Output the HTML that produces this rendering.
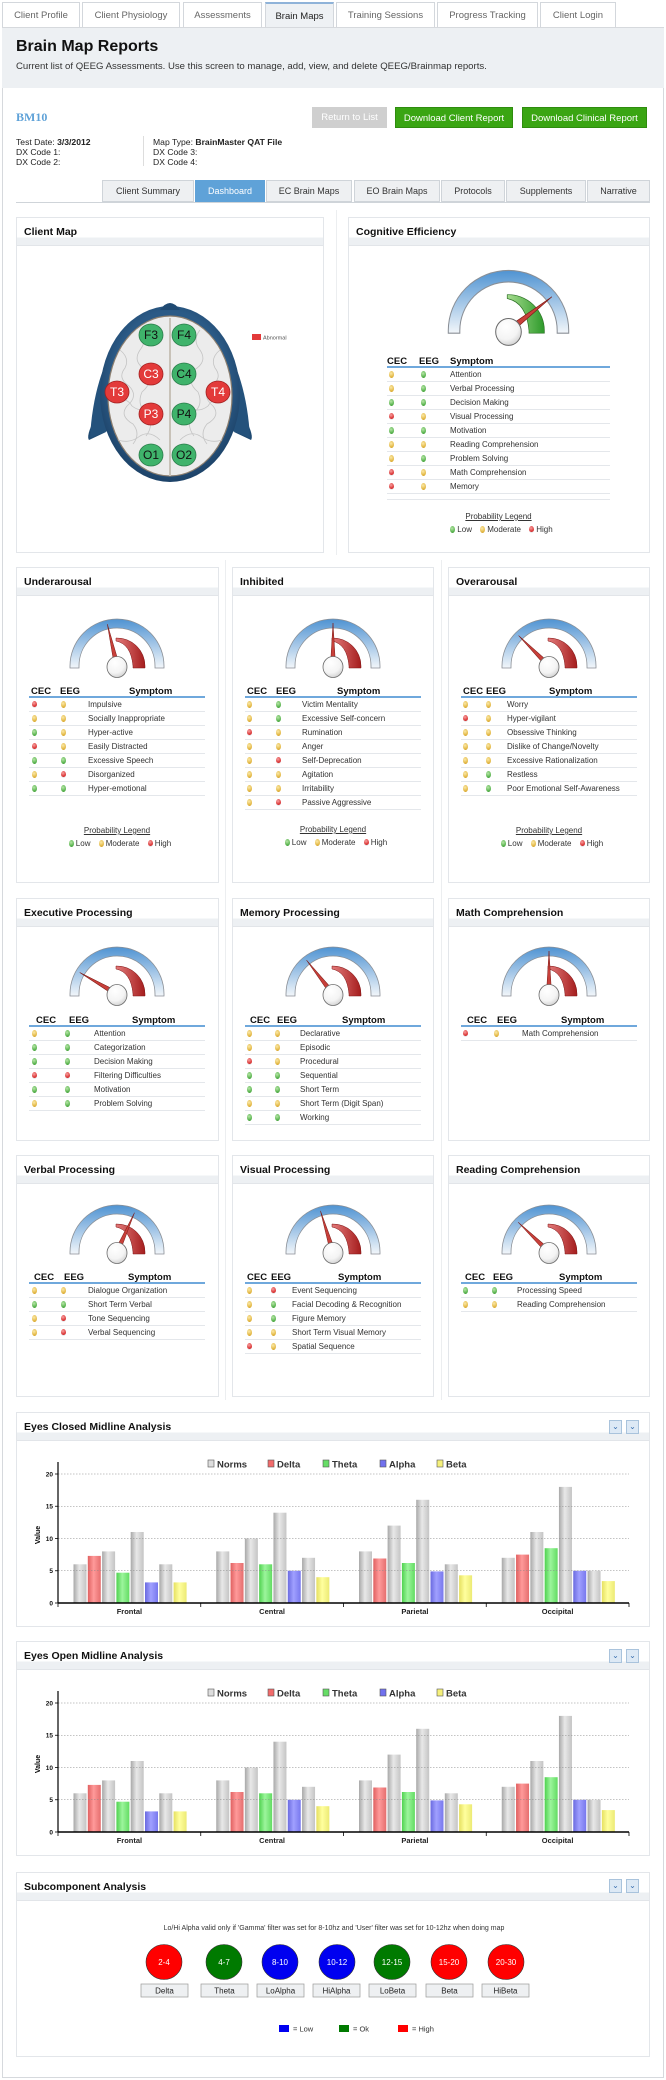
<!DOCTYPE html>
<html><head><meta charset="utf-8">
<style>
*{box-sizing:border-box;margin:0;padding:0}
body{width:666px;height:2080px;background:#fff;font-family:"Liberation Sans",Arial,sans-serif;color:#222;position:relative;overflow:hidden}
.a{position:absolute}
.tab{position:absolute;top:2px;height:26px;border:1px solid #d3d7dc;border-bottom:none;background:#fff;color:#666;font-size:9.5px;text-align:center;line-height:25px}
.tab.on{background:#eef1f4;color:#222;border-top:2px solid #8fb3d9}
.btn{position:absolute;top:107px;height:21px;color:#fff;font-size:9.5px;text-align:center;line-height:21px}
.st{position:absolute;top:180px;height:22px;background:#eef0f2;border:1px solid #cfd4d9;font-size:9px;color:#333;text-align:center;line-height:21px}
.st.on{background:#5fa2d8;color:#fff;border-color:#5fa2d8}
.pn{position:absolute;border:1px solid #e3e6ea;background:#fff}
.ph{position:absolute;left:0;right:0;top:0;height:28px;background:linear-gradient(#fff 0,#fff 72%,#edf0f3 72%);border-bottom:1px solid #e2e5e9}
.ph b{position:absolute;left:7px;top:8px;font-size:10.5px;color:#111}
.tb{position:absolute;font-size:8px;color:#333}
.th{position:relative;height:12px;border-bottom:2px solid #6fa8dc;font-weight:bold;font-size:9.5px;color:#111}
.th span{position:absolute;top:0}
.r{position:relative;height:14px;border-bottom:1px solid #e4e7eb}
.r i{position:absolute;top:3px;width:5px;height:7px;border-radius:50%}
.r i:nth-of-type(1){left:var(--c1)}
.r i:nth-of-type(2){left:var(--c2)}
.r span{position:absolute;left:var(--c3);top:2px;white-space:nowrap}
i.y,.lg i.y{background:radial-gradient(circle at 40% 35%,#fbe9a6,#e0b23a 70%,#b8871a)}
i.g,.lg i.g{background:radial-gradient(circle at 40% 35%,#b7e6a7,#4fae45 70%,#2f7d2a)}
i.r,.lg i.r{background:radial-gradient(circle at 40% 35%,#f7a0a0,#d92c2c 70%,#9c1414)}
.pl{position:absolute;font-size:8px;color:#333;text-align:center}
.pl u{display:block}
.lg{margin-top:4px}
.lg i{display:inline-block;width:5px;height:7px;border-radius:50%;vertical-align:-1px;margin:0 2px 0 6px}
.ib{position:absolute;width:13px;height:14px;border:1px solid #a9c3dc;background:#dde9f5;color:#3b6fb0;font-size:8px;text-align:center;line-height:12px}
</style></head><body>

<div class="a" style="left:2px;top:27px;width:662px;height:2051px;border:1px solid #d6d9dd;border-top:none"></div>

<div class="tab" style="left:2px;width:78px">Client Profile</div>
<div class="tab" style="left:82px;width:98px">Client Physiology</div>
<div class="tab" style="left:183px;width:79px">Assessments</div>
<div class="tab on" style="left:265px;width:69px">Brain Maps</div>
<div class="tab" style="left:336px;width:99px">Training Sessions</div>
<div class="tab" style="left:437px;width:101px">Progress Tracking</div>
<div class="tab" style="left:540px;width:76px">Client Login</div>
<div class="a" style="left:2px;top:27px;width:662px;height:61px;background:#edf0f3;border-top:1px solid #d6d9dd"></div>
<div class="a" style="left:16px;top:38px;font-size:16px;font-weight:bold;color:#111">Brain Map Reports</div>
<div class="a" style="left:16px;top:61px;font-size:9.6px;color:#333">Current list of QEEG Assessments. Use this screen to manage, add, view, and delete QEEG/Brainmap reports.</div>

<div class="a" style="left:16px;top:110px;font-size:12px;font-weight:bold;color:#5fa2d8;font-family:'Liberation Serif',serif">BM10</div>
<div class="btn" style="left:312px;width:75px;background:#cfcfcf">Return to List</div>
<div class="btn" style="left:395px;width:118px;background:#3aa513;border:1px solid #2f8c0e">Download Client Report</div>
<div class="btn" style="left:522px;width:125px;background:#3aa513;border:1px solid #2f8c0e">Download Clinical Report</div>
<div class="a" style="left:16px;top:137px;font-size:8.6px;line-height:10px;color:#222">Test Date: <b>3/3/2012</b><br>DX Code 1:<br>DX Code 2:</div>
<div class="a" style="left:143px;top:136px;width:1px;height:30px;background:#ddd"></div>
<div class="a" style="left:153px;top:137px;font-size:8.6px;line-height:10px;color:#222">Map Type: <b>BrainMaster QAT File</b><br>DX Code 3:<br>DX Code 4:</div>

<div class="a" style="left:16px;top:202px;width:634px;height:1px;background:#cfd4d9"></div>
<div class="st" style="left:102px;width:92px">Client Summary</div>
<div class="st on" style="left:195px;width:70px">Dashboard</div>
<div class="st" style="left:266px;width:86px">EC Brain Maps</div>
<div class="st" style="left:354px;width:86px">EO Brain Maps</div>
<div class="st" style="left:441px;width:64px">Protocols</div>
<div class="st" style="left:506px;width:80px">Supplements</div>
<div class="st" style="left:587px;width:63px">Narrative</div>

<div class="a" style="left:336px;top:210px;width:1px;height:345px;background:#eceef0"></div>
<div class="a" style="left:225px;top:560px;width:1px;height:840px;background:#eceef0"></div>
<div class="a" style="left:441px;top:560px;width:1px;height:840px;background:#eceef0"></div>

<svg width="0" height="0" style="position:absolute">
<defs>
<linearGradient id="bandg" x1="0" y1="0" x2="0" y2="1"><stop offset="0" stop-color="#4f93d2"/><stop offset="1" stop-color="#f2f6fa"/></linearGradient>
<linearGradient id="redg" x1="0" y1="0" x2="1" y2="0"><stop offset="0" stop-color="#e37a7a"/><stop offset="1" stop-color="#a51d1d"/></linearGradient>
<linearGradient id="grg" x1="0" y1="0" x2="1" y2="0"><stop offset="0" stop-color="#a6dc8f"/><stop offset="1" stop-color="#2d9a2a"/></linearGradient>
<radialGradient id="hubg" cx="0.4" cy="0.3" r="0.8"><stop offset="0" stop-color="#fff"/><stop offset="0.6" stop-color="#f4f4f4"/><stop offset="1" stop-color="#c8c8c8"/></radialGradient>
<g id="band"><path d="M-47,2 L-47,0 A47,47 0 0 1 47,0 L47,2 L38,2 L38,0 A38,38 0 0 0 -38,0 L-38,2 Z" fill="url(#bandg)" stroke="#8a8f96" stroke-width="0.8"/></g>
<g id="redz"><path d="M-1,-28 A28,28 0 0 1 28,0 L28,2 L16,2 L16,0 Q14,-22 -1,-25 Z" fill="url(#redg)" stroke="#7e1515" stroke-width="0.5"/></g>
<g id="grz"><path d="M-1,-28 A28,28 0 0 1 28,0 L28,2 L16,2 L16,0 Q14,-22 -1,-25 Z" fill="url(#grg)" stroke="#2a6e22" stroke-width="0.5"/></g>
<g id="hub"><ellipse cx="0" cy="1" rx="10" ry="10.5" fill="url(#hubg)" stroke="#6b6b6b" stroke-width="0.8"/></g>
<g id="ndl"><polygon points="-2.6,0 0,-43 2.6,0" fill="#c8403a" stroke="#7b1a16" stroke-width="0.5"/></g>
<linearGradient id="gG" x1="0" x2="1"><stop offset="0" stop-color="#a8a8a8"/><stop offset="0.45" stop-color="#e8e8e8"/><stop offset="1" stop-color="#c4c4c4"/></linearGradient>
<linearGradient id="gR" x1="0" x2="1"><stop offset="0" stop-color="#e06060"/><stop offset="0.45" stop-color="#ff9a9a"/><stop offset="1" stop-color="#e56e6e"/></linearGradient>
<linearGradient id="gT" x1="0" x2="1"><stop offset="0" stop-color="#4fd24f"/><stop offset="0.45" stop-color="#9cf59c"/><stop offset="1" stop-color="#62dc62"/></linearGradient>
<linearGradient id="gB" x1="0" x2="1"><stop offset="0" stop-color="#6a6ae0"/><stop offset="0.45" stop-color="#a0a0ff"/><stop offset="1" stop-color="#7878ee"/></linearGradient>
<linearGradient id="gY" x1="0" x2="1"><stop offset="0" stop-color="#e6e060"/><stop offset="0.45" stop-color="#ffff9e"/><stop offset="1" stop-color="#ecea74"/></linearGradient>
<g id="bars">
<rect x="73.5" y="152.3" width="13" height="38.7" fill="url(#gG)"/><rect x="87.8" y="143.9" width="13" height="47.1" fill="url(#gR)"/><rect x="102.1" y="139.4" width="13" height="51.6" fill="url(#gG)"/><rect x="116.4" y="160.7" width="13" height="30.3" fill="url(#gT)"/><rect x="130.7" y="120" width="13" height="71" fill="url(#gG)"/><rect x="145" y="170.4" width="13" height="20.6" fill="url(#gB)"/><rect x="159.3" y="152.3" width="13" height="38.7" fill="url(#gG)"/><rect x="173.6" y="170.4" width="13" height="20.6" fill="url(#gY)"/>
<rect x="216.25" y="139.4" width="13" height="51.6" fill="url(#gG)"/><rect x="230.55" y="151" width="13" height="40" fill="url(#gR)"/><rect x="244.85" y="126.5" width="13" height="64.5" fill="url(#gG)"/><rect x="259.15" y="152.3" width="13" height="38.7" fill="url(#gT)"/><rect x="273.45" y="100.7" width="13" height="90.3" fill="url(#gG)"/><rect x="287.75" y="158.7" width="13" height="32.3" fill="url(#gB)"/><rect x="302.05" y="145.8" width="13" height="45.2" fill="url(#gG)"/><rect x="316.35" y="165.2" width="13" height="25.8" fill="url(#gY)"/>
<rect x="359" y="139.4" width="13" height="51.6" fill="url(#gG)"/><rect x="373.3" y="146.5" width="13" height="44.5" fill="url(#gR)"/><rect x="387.6" y="113.6" width="13" height="77.4" fill="url(#gG)"/><rect x="401.9" y="151" width="13" height="40" fill="url(#gT)"/><rect x="416.2" y="87.8" width="13" height="103.2" fill="url(#gG)"/><rect x="430.5" y="159.4" width="13" height="31.6" fill="url(#gB)"/><rect x="444.8" y="152.3" width="13" height="38.7" fill="url(#gG)"/><rect x="459.1" y="163.3" width="13" height="27.7" fill="url(#gY)"/>
<rect x="501.75" y="145.8" width="13" height="45.2" fill="url(#gG)"/><rect x="516.05" y="142.6" width="13" height="48.4" fill="url(#gR)"/><rect x="530.35" y="120" width="13" height="71" fill="url(#gG)"/><rect x="544.65" y="136.2" width="13" height="54.8" fill="url(#gT)"/><rect x="558.95" y="74.9" width="13" height="116.1" fill="url(#gG)"/><rect x="573.25" y="158.7" width="13" height="32.3" fill="url(#gB)"/><rect x="587.55" y="158.7" width="13" height="32.3" fill="url(#gG)"/><rect x="601.85" y="169.1" width="13" height="21.9" fill="url(#gY)"/>
<g stroke="#888" stroke-width="0.6" stroke-dasharray="1.5,1.5"><line x1="58" x2="629" y1="62" y2="62"/><line x1="58" x2="629" y1="94.25" y2="94.25"/><line x1="58" x2="629" y1="126.5" y2="126.5"/><line x1="58" x2="629" y1="158.75" y2="158.75"/></g>
<line x1="58" x2="58" y1="50" y2="191" stroke="#000" stroke-width="1.2"/>
<line x1="58" x2="629" y1="191" y2="191" stroke="#000" stroke-width="1.5"/>
<g stroke="#000" stroke-width="0.8"><line x1="58" x2="58" y1="191" y2="195"/><line x1="200.75" x2="200.75" y1="191" y2="195"/><line x1="343.5" x2="343.5" y1="191" y2="195"/><line x1="486.25" x2="486.25" y1="191" y2="195"/><line x1="629" x2="629" y1="191" y2="195"/></g>
<g stroke="#000" stroke-width="0.8"><line x1="55" x2="58" y1="62" y2="62"/><line x1="55" x2="58" y1="94.25" y2="94.25"/><line x1="55" x2="58" y1="126.5" y2="126.5"/><line x1="55" x2="58" y1="158.75" y2="158.75"/><line x1="55" x2="58" y1="191" y2="191"/></g>
<rect x="208" y="48" width="6" height="7" fill="#ddd" stroke="#555" stroke-width="0.6"/><rect x="268" y="48" width="6" height="7" fill="#f26b6b" stroke="#555" stroke-width="0.6"/><rect x="323" y="48" width="6" height="7" fill="#66dd66" stroke="#555" stroke-width="0.6"/><rect x="380" y="48" width="6" height="7" fill="#7070ee" stroke="#555" stroke-width="0.6"/><rect x="437" y="48" width="6" height="7" fill="#f5f07a" stroke="#555" stroke-width="0.6"/>
</g>
</defs></svg>

<div class="pn" style="left:16px;top:217px;width:308px;height:336px"><div class="ph"><b>Client Map</b></div></div>
<svg class="a" style="left:0;top:0" width="340" height="560">
<defs><radialGradient id="hd" cx="0.5" cy="0.45" r="0.6"><stop offset="0.7" stop-color="#2b5a86"/><stop offset="1" stop-color="#17395c"/></radialGradient></defs>
<path d="M94,420 Q86,436 89,440 L106,432 Z" fill="#1f4a72"/><path d="M246,420 Q254,436 251,440 L234,432 Z" fill="#1f4a72"/>
<path d="M103,370 Q92,400 90,438 L110,430 Z" fill="#24527c"/><path d="M237,370 Q248,400 250,438 L230,430 Z" fill="#24527c"/>
<ellipse cx="170" cy="394" rx="70" ry="88" fill="url(#hd)"/>
<path d="M160,310 Q170,296 180,310 Z" fill="#1f4a72"/>
<ellipse cx="170" cy="396" rx="62" ry="80" fill="#ececec" stroke="#8a7d6e" stroke-width="1.2"/>
<line x1="170" y1="318" x2="170" y2="476" stroke="#c8c2b8" stroke-width="2"/>
<g fill="none" stroke="#c4c4c4" stroke-width="0.8">
<path d="M120,350 q10,8 5,18 q-8,10 4,18 q10,10 -2,20 q-8,10 6,18 q8,10 0,20"/><path d="M140,330 q8,10 0,20 q-8,12 6,20 q8,12 -4,22 q-6,14 6,22 q6,12 -2,22"/>
<path d="M220,350 q-10,8 -5,18 q8,10 -4,18 q-10,10 2,20 q8,10 -6,18 q-8,10 0,20"/><path d="M200,330 q-8,10 0,20 q8,12 -6,20 q-8,12 4,22 q6,14 -6,22 q-6,12 2,22"/>
<path d="M112,400 q14,-4 20,6 q10,8 22,0"/><path d="M228,400 q-14,-4 -20,6 q-10,8 -22,0"/><path d="M118,440 q12,4 22,-4 q10,-6 20,4"/><path d="M222,440 q-12,4 -22,-4 q-10,-6 -20,4"/>
</g>
<g font-family="Liberation Sans" font-size="12" fill="#fff" text-anchor="middle" stroke-width="0.8">
<ellipse cx="151" cy="335" rx="12" ry="11" fill="#3fb36b" stroke="#2a7d4a"/><text x="151" y="339" fill="#111">F3</text>
<ellipse cx="184" cy="335" rx="12" ry="11" fill="#3fb36b" stroke="#2a7d4a"/><text x="184" y="339" fill="#111">F4</text>
<ellipse cx="151" cy="374" rx="12" ry="11" fill="#e33a3a" stroke="#a32020"/><text x="151" y="378">C3</text>
<ellipse cx="184" cy="374" rx="12" ry="11" fill="#3fb36b" stroke="#2a7d4a"/><text x="184" y="378" fill="#111">C4</text>
<ellipse cx="117" cy="392" rx="12" ry="11" fill="#e33a3a" stroke="#a32020"/><text x="117" y="396">T3</text>
<ellipse cx="218" cy="392" rx="12" ry="11" fill="#e33a3a" stroke="#a32020"/><text x="218" y="396">T4</text>
<ellipse cx="151" cy="414" rx="12" ry="11" fill="#e33a3a" stroke="#a32020"/><text x="151" y="418">P3</text>
<ellipse cx="184" cy="414" rx="12" ry="11" fill="#3fb36b" stroke="#2a7d4a"/><text x="184" y="418" fill="#111">P4</text>
<ellipse cx="151" cy="455" rx="12" ry="11" fill="#3fb36b" stroke="#2a7d4a"/><text x="151" y="459" fill="#111">O1</text>
<ellipse cx="184" cy="455" rx="12" ry="11" fill="#3fb36b" stroke="#2a7d4a"/><text x="184" y="459" fill="#111">O2</text>
</g>
<rect x="252" y="334" width="9" height="6" fill="#e33a3a"/><text x="263" y="339.5" font-family="Liberation Sans" font-size="5.5" fill="#555">Abnormal</text>
</svg>

<div class="pn" style="left:348px;top:217px;width:302px;height:336px"><div class="ph"><b>Cognitive Efficiency</b></div></div>
<svg class="a" style="left:437.5px;top:263.5px" width="141" height="82" viewBox="-55 -52 110 64"><use href="#band"/><use href="#grz"/><use href="#ndl" transform="rotate(52)"/><use href="#hub"/></svg>
<div class="tb" style="left:387px;top:356px;width:223px;--c1:1.5px;--c2:33.5px;--c3:63px">
<div class="th"><span style="left:0">CEC</span><span style="left:32px">EEG</span><span style="left:63px">Symptom</span></div>
<div class="r"><i class="y"></i><i class="g"></i><span>Attention</span></div>
<div class="r"><i class="y"></i><i class="g"></i><span>Verbal Processing</span></div>
<div class="r"><i class="g"></i><i class="g"></i><span>Decision Making</span></div>
<div class="r"><i class="r"></i><i class="y"></i><span>Visual Processing</span></div>
<div class="r"><i class="g"></i><i class="g"></i><span>Motivation</span></div>
<div class="r"><i class="y"></i><i class="y"></i><span>Reading Comprehension</span></div>
<div class="r"><i class="y"></i><i class="g"></i><span>Problem Solving</span></div>
<div class="r"><i class="r"></i><i class="y"></i><span>Math Comprehension</span></div>
<div class="r"><i class="r"></i><i class="y"></i><span>Memory</span></div>
<div class="r" style="height:6px"></div>
</div>
<div class="pl" style="left:387px;top:512px;width:223px"><u>Probability Legend</u><div class="lg"><i class="g"></i>Low <i class="y"></i>Moderate <i class="r"></i>High</div></div>

<div class="pn" style="left:16px;top:567px;width:203px;height:316px"><div class="ph"><b>Underarousal</b></div></div>
<div class="pn" style="left:232px;top:567px;width:202px;height:316px"><div class="ph"><b>Inhibited</b></div></div>
<div class="pn" style="left:448px;top:567px;width:202px;height:316px"><div class="ph"><b>Overarousal</b></div></div>
<svg class="a" style="left:62px;top:614px" width="110" height="64" viewBox="-55 -52 110 64"><use href="#band"/><use href="#redz"/><use href="#ndl" transform="rotate(-13)"/><use href="#hub"/></svg>
<svg class="a" style="left:278px;top:614px" width="110" height="64" viewBox="-55 -52 110 64"><use href="#band"/><use href="#redz"/><use href="#ndl" transform="rotate(0)"/><use href="#hub"/></svg>
<svg class="a" style="left:494px;top:614px" width="110" height="64" viewBox="-55 -52 110 64"><use href="#band"/><use href="#redz"/><use href="#ndl" transform="rotate(-45)"/><use href="#hub"/></svg>

<div class="tb" style="left:29px;top:686px;width:176px;--c1:2.5px;--c2:31.5px;--c3:59px">
<div class="th"><span style="left:2px">CEC</span><span style="left:31px">EEG</span><span style="left:100px">Symptom</span></div>
<div class="r"><i class="r"></i><i class="y"></i><span>Impulsive</span></div>
<div class="r"><i class="y"></i><i class="y"></i><span>Socially Inappropriate</span></div>
<div class="r"><i class="g"></i><i class="y"></i><span>Hyper-active</span></div>
<div class="r"><i class="r"></i><i class="y"></i><span>Easily Distracted</span></div>
<div class="r"><i class="g"></i><i class="g"></i><span>Excessive Speech</span></div>
<div class="r"><i class="y"></i><i class="r"></i><span>Disorganized</span></div>
<div class="r"><i class="g"></i><i class="g"></i><span>Hyper-emotional</span></div>
</div>
<div class="tb" style="left:245px;top:686px;width:176px;--c1:1.5px;--c2:30.5px;--c3:57px">
<div class="th"><span style="left:2px">CEC</span><span style="left:31px">EEG</span><span style="left:92px">Symptom</span></div>
<div class="r"><i class="y"></i><i class="g"></i><span>Victim Mentality</span></div>
<div class="r"><i class="y"></i><i class="g"></i><span>Excessive Self-concern</span></div>
<div class="r"><i class="r"></i><i class="y"></i><span>Rumination</span></div>
<div class="r"><i class="y"></i><i class="y"></i><span>Anger</span></div>
<div class="r"><i class="y"></i><i class="r"></i><span>Self-Deprecation</span></div>
<div class="r"><i class="y"></i><i class="y"></i><span>Agitation</span></div>
<div class="r"><i class="y"></i><i class="y"></i><span>Irritability</span></div>
<div class="r"><i class="y"></i><i class="r"></i><span>Passive Aggressive</span></div>
</div>
<div class="tb" style="left:461px;top:686px;width:176px;--c1:1.5px;--c2:24.5px;--c3:46px">
<div class="th"><span style="left:2px">CEC</span><span style="left:25px">EEG</span><span style="left:88px">Symptom</span></div>
<div class="r"><i class="y"></i><i class="y"></i><span>Worry</span></div>
<div class="r"><i class="r"></i><i class="y"></i><span>Hyper-vigilant</span></div>
<div class="r"><i class="y"></i><i class="y"></i><span>Obsessive Thinking</span></div>
<div class="r"><i class="y"></i><i class="y"></i><span>Dislike of Change/Novelty</span></div>
<div class="r"><i class="y"></i><i class="y"></i><span>Excessive Rationalization</span></div>
<div class="r"><i class="y"></i><i class="g"></i><span>Restless</span></div>
<div class="r"><i class="y"></i><i class="g"></i><span>Poor Emotional Self-Awareness</span></div>
</div>
<div class="pl" style="left:29px;top:826px;width:176px"><u>Probability Legend</u><div class="lg"><i class="g"></i>Low <i class="y"></i>Moderate <i class="r"></i>High</div></div>
<div class="pl" style="left:245px;top:825px;width:176px"><u>Probability Legend</u><div class="lg"><i class="g"></i>Low <i class="y"></i>Moderate <i class="r"></i>High</div></div>
<div class="pl" style="left:461px;top:826px;width:176px"><u>Probability Legend</u><div class="lg"><i class="g"></i>Low <i class="y"></i>Moderate <i class="r"></i>High</div></div>

<div class="pn" style="left:16px;top:898px;width:203px;height:243px"><div class="ph"><b>Executive Processing</b></div></div>
<div class="pn" style="left:232px;top:898px;width:202px;height:243px"><div class="ph"><b>Memory Processing</b></div></div>
<div class="pn" style="left:448px;top:898px;width:202px;height:243px"><div class="ph"><b>Math Comprehension</b></div></div>
<svg class="a" style="left:62px;top:942px" width="110" height="64" viewBox="-55 -52 110 64"><use href="#band"/><use href="#redz"/><use href="#ndl" transform="rotate(-60)"/><use href="#hub"/></svg>
<svg class="a" style="left:278px;top:942px" width="110" height="64" viewBox="-55 -52 110 64"><use href="#band"/><use href="#redz"/><use href="#ndl" transform="rotate(-38)"/><use href="#hub"/></svg>
<svg class="a" style="left:494px;top:942px" width="110" height="64" viewBox="-55 -52 110 64"><use href="#band"/><use href="#redz"/><use href="#ndl" transform="rotate(0)"/><use href="#hub"/></svg>
<div class="tb" style="left:29px;top:1015px;width:176px;--c1:2.5px;--c2:35.5px;--c3:65px">
<div class="th"><span style="left:7px">CEC</span><span style="left:40px">EEG</span><span style="left:103px">Symptom</span></div>
<div class="r"><i class="y"></i><i class="g"></i><span>Attention</span></div>
<div class="r"><i class="g"></i><i class="g"></i><span>Categorization</span></div>
<div class="r"><i class="g"></i><i class="g"></i><span>Decision Making</span></div>
<div class="r"><i class="r"></i><i class="r"></i><span>Filtering Difficulties</span></div>
<div class="r"><i class="g"></i><i class="g"></i><span>Motivation</span></div>
<div class="r"><i class="y"></i><i class="g"></i><span>Problem Solving</span></div>
</div>
<div class="tb" style="left:245px;top:1015px;width:176px;--c1:1.5px;--c2:29.5px;--c3:55px">
<div class="th"><span style="left:5px">CEC</span><span style="left:32px">EEG</span><span style="left:97px">Symptom</span></div>
<div class="r"><i class="y"></i><i class="y"></i><span>Declarative</span></div>
<div class="r"><i class="y"></i><i class="y"></i><span>Episodic</span></div>
<div class="r"><i class="r"></i><i class="y"></i><span>Procedural</span></div>
<div class="r"><i class="g"></i><i class="g"></i><span>Sequential</span></div>
<div class="r"><i class="g"></i><i class="g"></i><span>Short Term</span></div>
<div class="r"><i class="y"></i><i class="y"></i><span>Short Term (Digit Span)</span></div>
<div class="r"><i class="g"></i><i class="g"></i><span>Working</span></div>
</div>
<div class="tb" style="left:461px;top:1015px;width:176px;--c1:1.5px;--c2:32.5px;--c3:61px">
<div class="th"><span style="left:6px">CEC</span><span style="left:36px">EEG</span><span style="left:100px">Symptom</span></div>
<div class="r"><i class="r"></i><i class="y"></i><span>Math Comprehension</span></div>
</div>

<div class="pn" style="left:16px;top:1155px;width:203px;height:242px"><div class="ph"><b>Verbal Processing</b></div></div>
<div class="pn" style="left:232px;top:1155px;width:202px;height:242px"><div class="ph"><b>Visual Processing</b></div></div>
<div class="pn" style="left:448px;top:1155px;width:202px;height:242px"><div class="ph"><b>Reading Comprehension</b></div></div>
<svg class="a" style="left:62px;top:1200px" width="110" height="64" viewBox="-55 -52 110 64"><use href="#band"/><use href="#redz"/><use href="#ndl" transform="rotate(24)"/><use href="#hub"/></svg>
<svg class="a" style="left:278px;top:1200px" width="110" height="64" viewBox="-55 -52 110 64"><use href="#band"/><use href="#redz"/><use href="#ndl" transform="rotate(-17)"/><use href="#hub"/></svg>
<svg class="a" style="left:494px;top:1200px" width="110" height="64" viewBox="-55 -52 110 64"><use href="#band"/><use href="#redz"/><use href="#ndl" transform="rotate(-46)"/><use href="#hub"/></svg>
<div class="tb" style="left:29px;top:1272px;width:176px;--c1:2.5px;--c2:31.5px;--c3:59px">
<div class="th"><span style="left:5px">CEC</span><span style="left:35px">EEG</span><span style="left:99px">Symptom</span></div>
<div class="r"><i class="y"></i><i class="y"></i><span>Dialogue Organization</span></div>
<div class="r"><i class="g"></i><i class="g"></i><span>Short Term Verbal</span></div>
<div class="r"><i class="y"></i><i class="r"></i><span>Tone Sequencing</span></div>
<div class="r"><i class="y"></i><i class="r"></i><span>Verbal Sequencing</span></div>
</div>
<div class="tb" style="left:245px;top:1272px;width:176px;--c1:1.5px;--c2:25.5px;--c3:47px">
<div class="th"><span style="left:2px">CEC</span><span style="left:26px">EEG</span><span style="left:93px">Symptom</span></div>
<div class="r"><i class="y"></i><i class="r"></i><span>Event Sequencing</span></div>
<div class="r"><i class="y"></i><i class="g"></i><span>Facial Decoding &amp; Recognition</span></div>
<div class="r"><i class="y"></i><i class="g"></i><span>Figure Memory</span></div>
<div class="r"><i class="y"></i><i class="y"></i><span>Short Term Visual Memory</span></div>
<div class="r"><i class="r"></i><i class="y"></i><span>Spatial Sequence</span></div>
</div>
<div class="tb" style="left:461px;top:1272px;width:176px;--c1:1.5px;--c2:30.5px;--c3:56px">
<div class="th"><span style="left:4px">CEC</span><span style="left:32px">EEG</span><span style="left:98px">Symptom</span></div>
<div class="r"><i class="g"></i><i class="g"></i><span>Processing Speed</span></div>
<div class="r"><i class="y"></i><i class="y"></i><span>Reading Comprehension</span></div>
</div>

<div class="pn" style="left:16px;top:1412px;width:634px;height:215px"><div class="ph"><b>Eyes Closed Midline Analysis</b></div></div>
<div class="ib" style="left:609px;top:1420px">&#8964;</div><div class="ib" style="left:626px;top:1420px">&#8964;</div>
<svg class="a" style="left:0;top:1412px" width="666" height="215" font-family="Liberation Sans">
<use href="#bars"/>
<g font-size="9.5" font-weight="bold" fill="#333"><text x="217" y="55.5">Norms</text><text x="277" y="55.5">Delta</text><text x="332" y="55.5">Theta</text><text x="389" y="55.5">Alpha</text><text x="446" y="55.5">Beta</text></g>
<g font-size="6.5" font-weight="bold" fill="#111" text-anchor="end"><text x="53" y="64.5">20</text><text x="53" y="96.5">15</text><text x="53" y="129">10</text><text x="53" y="161">5</text><text x="53" y="193.5">0</text></g>
<text transform="translate(40,123) rotate(-90)" font-size="7" font-weight="bold" text-anchor="middle">Value</text>
<g font-size="7.5" font-weight="bold" fill="#222" text-anchor="middle"><text x="129.4" y="202">Frontal</text><text x="272.1" y="202">Central</text><text x="414.9" y="202">Parietal</text><text x="557.6" y="202">Occipital</text></g>
</svg>

<div class="pn" style="left:16px;top:1641px;width:634px;height:215px"><div class="ph"><b>Eyes Open Midline Analysis</b></div></div>
<div class="ib" style="left:609px;top:1649px">&#8964;</div><div class="ib" style="left:626px;top:1649px">&#8964;</div>
<svg class="a" style="left:0;top:1641px" width="666" height="215" font-family="Liberation Sans">
<use href="#bars"/>
<g font-size="9.5" font-weight="bold" fill="#333"><text x="217" y="55.5">Norms</text><text x="277" y="55.5">Delta</text><text x="332" y="55.5">Theta</text><text x="389" y="55.5">Alpha</text><text x="446" y="55.5">Beta</text></g>
<g font-size="6.5" font-weight="bold" fill="#111" text-anchor="end"><text x="53" y="64.5">20</text><text x="53" y="96.5">15</text><text x="53" y="129">10</text><text x="53" y="161">5</text><text x="53" y="193.5">0</text></g>
<text transform="translate(40,123) rotate(-90)" font-size="7" font-weight="bold" text-anchor="middle">Value</text>
<g font-size="7.5" font-weight="bold" fill="#222" text-anchor="middle"><text x="129.4" y="202">Frontal</text><text x="272.1" y="202">Central</text><text x="414.9" y="202">Parietal</text><text x="557.6" y="202">Occipital</text></g>
</svg>

<div class="pn" style="left:16px;top:1872px;width:634px;height:185px"><div class="ph"><b>Subcomponent Analysis</b></div></div>
<div class="ib" style="left:609px;top:1879px">&#8964;</div><div class="ib" style="left:626px;top:1879px">&#8964;</div>
<div class="a" style="left:100px;top:1925px;width:468px;text-align:center;font-size:7px;color:#333">Lo/Hi Alpha valid only if 'Gamma' filter was set for 8-10hz and 'User' filter was set for 10-12hz when doing map</div>
<svg class="a" style="left:0;top:1940px" width="666" height="110" font-family="Liberation Sans">
<g stroke="#333" stroke-width="0.6">
<ellipse cx="164" cy="22" rx="18" ry="17.5" fill="#f00"/><ellipse cx="224" cy="22" rx="18" ry="17.5" fill="#007a00"/><ellipse cx="280" cy="22" rx="18" ry="17.5" fill="#0000f0"/><ellipse cx="337" cy="22" rx="18" ry="17.5" fill="#0000f0"/><ellipse cx="392" cy="22" rx="18" ry="17.5" fill="#007a00"/><ellipse cx="449" cy="22" rx="18" ry="17.5" fill="#f00"/><ellipse cx="506" cy="22" rx="18" ry="17.5" fill="#f00"/>
</g>
<g font-size="8" fill="#fff" text-anchor="middle"><text x="164" y="25">2-4</text><text x="224" y="25">4-7</text><text x="280" y="25">8-10</text><text x="337" y="25">10-12</text><text x="392" y="25">12-15</text><text x="449" y="25">15-20</text><text x="506" y="25">20-30</text></g>
<g fill="#eef0f2" stroke="#999" stroke-width="0.7">
<rect x="141" y="44" width="47" height="13"/><rect x="201" y="44" width="47" height="13"/><rect x="257" y="44" width="47" height="13"/><rect x="313" y="44" width="47" height="13"/><rect x="369" y="44" width="47" height="13"/><rect x="426" y="44" width="47" height="13"/><rect x="482" y="44" width="47" height="13"/>
</g>
<g font-size="8" fill="#222" text-anchor="middle"><text x="164.5" y="53.5">Delta</text><text x="224.5" y="53.5">Theta</text><text x="280.5" y="53.5">LoAlpha</text><text x="336.5" y="53.5">HiAlpha</text><text x="392.5" y="53.5">LoBeta</text><text x="449.5" y="53.5">Beta</text><text x="505.5" y="53.5">HiBeta</text></g>
<rect x="279" y="85" width="10" height="7" fill="#0000f0"/><rect x="339" y="85" width="10" height="7" fill="#007a00"/><rect x="398" y="85" width="10" height="7" fill="#f00"/>
<g font-size="7.5" fill="#333"><text x="293" y="91.5">= Low</text><text x="353" y="91.5">= Ok</text><text x="412" y="91.5">= High</text></g>
</svg>

</body></html>
